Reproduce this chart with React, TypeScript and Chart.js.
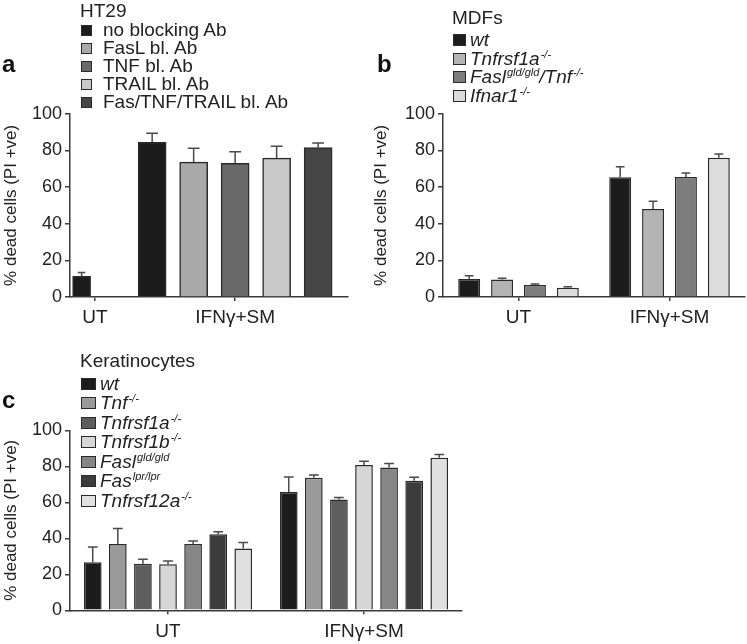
import React, { useEffect, useRef } from 'react';
import { Chart, registerables } from 'chart.js';

Chart.register(...registerables);

// ---------- data ----------
const groups = ['UT', 'IFNγ+SM'];

// Panel a (HT29)
const aSeries = ['no blocking Ab', 'FasL bl. Ab', 'TNF bl. Ab', 'TRAIL bl. Ab', 'Fas/TNF/TRAIL bl. Ab'];
const aUT = [11.3];
const aUTErr = [2.0];
const aIFN = [84.4, 73.6, 72.9, 75.8, 81.5];
const aIFNErr = [4.9, 7.5, 6.4, 6.4, 2.5];

// Panel b (MDFs) — segments: even index normal, odd index superscript
const bSeries = [['wt'], ['Tnfrsf1a', '-/-'], ['Fasl', 'gld/gld', '/Tnf', '-/-'], ['Ifnar1', '-/-']];
const bWt = [9.8, 65.3];
const bTnfrsf1a = [9.5, 48.0];
const bFaslTnf = [6.5, 65.5];
const bIfnar1 = [5.1, 76.0];
const bWtErr = [1.8, 5.7];
const bTnfrsf1aErr = [0.7, 4.2];
const bFaslTnfErr = [0.6, 2.2];
const bIfnar1Err = [0.5, 2.0];

// Panel c (Keratinocytes)
const cSeries = [['wt'], ['Tnf', '-/-'], ['Tnfrsf1a', '-/-'], ['Tnfrsf1b', '-/-'], ['Fasl', 'gld/gld'], ['Fas', 'lpr/lpr'], ['Tnfrsf12a', '-/-']];
const cWt = [26.7, 65.7];
const cTnf = [36.8, 73.7];
const cTnfrsf1a = [25.8, 61.5];
const cTnfrsf1b = [25.6, 80.7];
const cFasl = [36.8, 79.4];
const cFas = [42.2, 72.0];
const cTnfrsf12a = [34.4, 84.8];
const cWtErr = [8.5, 8.3];
const cTnfErr = [8.7, 1.5];
const cTnfrsf1aErr = [2.5, 1.1];
const cTnfrsf1bErr = [1.8, 2.1];
const cFaslErr = [1.7, 2.1];
const cFasErr = [1.5, 1.9];
const cTnfrsf12aErr = [3.2, 1.8];

const yTicksMax = 100;
const yTickStep = 20;
const yTitle = '% dead cells (PI +ve)';

// ---------- styles ----------
const aColors = ['#1c1c1c', '#a9a9a9', '#6a6a6a', '#c9c9c9', '#454545'];
const bColors = ['#1c1c1c', '#b4b4b4', '#7c7c7c', '#dcdcdc'];
const cColors = ['#1c1c1c', '#9a9a9a', '#5e5e5e', '#d6d6d6', '#868686', '#3c3c3c', '#e0e0e0'];
const axisColor = '#3a3a3a';
const textColor = '#222';
const FONT = '"Liberation Sans", Arial, Helvetica, sans-serif';
const yTickFont = 18;
const xTickFont = 19;
const titleFont = 17;
const legendFont = 19;

// panel a x layout (linear axis units)
const aAxisMax = 6.7;
const aUTPos = 0.28;
const aIFNStart = 1.98;
const aTickPos = [0.6, 3.98];

Chart.defaults.font.family = FONT;
Chart.defaults.font.size = 17;
Chart.defaults.color = textColor;

const errorBarPlugin = {
  id: 'errorBars',
  afterDatasetsDraw(chart: any, _args: any, opts: any) {
    const ctx = chart.ctx;
    const yScale = chart.scales.y;
    const capRatio = (opts && opts.capRatio) || 0.4;
    chart.data.datasets.forEach((ds: any, i: number) => {
      const meta = chart.getDatasetMeta(i);
      if (!ds.errors) return;
      meta.data.forEach((el: any, j: number) => {
        const raw = ds.data[j];
        const v = typeof raw === 'number' ? raw : raw && raw.y;
        const err = ds.errors[j];
        if (v == null || err == null) return;
        const yTop = yScale.getPixelForValue(v + err);
        const half = (el.width * capRatio) / 2;
        ctx.save();
        ctx.strokeStyle = '#4a4a4a';
        ctx.lineWidth = 1.5;
        ctx.beginPath();
        ctx.moveTo(el.x, el.y);
        ctx.lineTo(el.x, yTop);
        ctx.moveTo(el.x - half, yTop);
        ctx.lineTo(el.x + half, yTop);
        ctx.stroke();
        ctx.restore();
      });
    });
  },
};

function yAxis(width: number, titlePad: number) {
  return {
    min: 0,
    max: yTicksMax,
    ticks: { stepSize: yTickStep, padding: 3, color: textColor, font: { size: yTickFont } },
    grid: { drawOnChartArea: false, tickLength: 5, color: axisColor, lineWidth: 1.5 },
    border: { display: true, color: axisColor, width: 1.5 },
    title: { display: true, text: yTitle, color: textColor, font: { size: titleFont }, padding: { top: titlePad, bottom: 0 } },
    afterFit: (s: any) => { s.width = width; },
  };
}

function xCategoryAxis(height: number, labelPad: number) {
  return {
    type: 'category',
    ticks: { padding: labelPad, color: textColor, font: { size: xTickFont }, maxRotation: 0, autoSkip: false },
    grid: { offset: false, drawOnChartArea: false, tickLength: 4, color: axisColor, lineWidth: 1.5 },
    border: { display: true, color: axisColor, width: 1.5 },
    afterFit: (s: any) => { s.height = height; },
  };
}

function configA() {
  const datasets: any[] = [
    {
      label: aSeries[0] + ' (UT)',
      data: aUT.map((v) => ({ x: aUTPos, y: v })),
      errors: aUTErr,
      backgroundColor: aColors[0],
      borderColor: '#2a2a2a',
      borderWidth: 1.5,
      barThickness: 18,
    },
    ...aSeries.map((name, i) => ({
      label: name,
      data: [{ x: aIFNStart + i, y: aIFN[i] }],
      errors: [aIFNErr[i]],
      backgroundColor: aColors[i],
      borderColor: '#2a2a2a',
      borderWidth: 1.5,
      barThickness: 28,
    })),
  ];
  return {
    type: 'bar',
    data: { datasets },
    options: {
      animation: false,
      responsive: false,
      grouped: false,
      layout: { padding: { top: 113.7, right: 12, left: 0, bottom: 0 } },
      plugins: { legend: { display: false }, tooltip: { enabled: false }, errorBars: { capRatio: 0.42 } },
      scales: {
        x: {
          type: 'linear',
          min: 0,
          max: aAxisMax,
          offset: false,
          afterBuildTicks: (s: any) => { s.ticks = aTickPos.map((v) => ({ value: v })); },
          ticks: { padding: 5, color: textColor, font: { size: xTickFont }, maxRotation: 0, autoSkip: false,
            callback: (_v: any, i: number) => groups[i] },
          grid: { offset: false, drawOnChartArea: false, tickLength: 4, color: axisColor, lineWidth: 1.5 },
          border: { display: true, color: axisColor, width: 1.5 },
          afterFit: (s: any) => { s.height = 36; },
        },
        y: yAxis(70, 1.5),
      },
    },
    plugins: [errorBarPlugin],
  };
}

function configB() {
  const vals = [bWt, bTnfrsf1a, bFaslTnf, bIfnar1];
  const errs = [bWtErr, bTnfrsf1aErr, bFaslTnfErr, bIfnar1Err];
  return {
    type: 'bar',
    data: {
      labels: groups,
      datasets: bSeries.map((seg, i) => ({
        label: seg.join(''),
        data: vals[i],
        errors: errs[i],
        backgroundColor: bColors[i],
        borderColor: '#2a2a2a',
        borderWidth: 1.5,
        categoryPercentage: 0.871,
        barPercentage: 0.667,
      })),
    },
    options: {
      animation: false,
      responsive: false,
      layout: { padding: { top: 113.7, right: 2, left: 0, bottom: 0 } },
      plugins: { legend: { display: false }, tooltip: { enabled: false }, errorBars: { capRatio: 0.4 } },
      scales: { x: xCategoryAxis(36, 5), y: yAxis(72, 0) },
    },
    plugins: [errorBarPlugin],
  };
}

function configC() {
  const vals = [cWt, cTnf, cTnfrsf1a, cTnfrsf1b, cFasl, cFas, cTnfrsf12a];
  const errs = [cWtErr, cTnfErr, cTnfrsf1aErr, cTnfrsf1bErr, cFaslErr, cFasErr, cTnfrsf12aErr];
  return {
    type: 'bar',
    data: {
      labels: groups,
      datasets: cSeries.map((seg, i) => ({
        label: seg.join(''),
        data: vals[i],
        errors: errs[i],
        backgroundColor: cColors[i],
        borderColor: '#2a2a2a',
        borderWidth: 1.5,
        categoryPercentage: 0.896,
        barPercentage: 0.705,
      })),
    },
    options: {
      animation: false,
      responsive: false,
      layout: { padding: { top: 110.3, right: 8, left: 0, bottom: 0 } },
      plugins: { legend: { display: false }, tooltip: { enabled: false }, errorBars: { capRatio: 0.55 } },
      scales: { x: xCategoryAxis(33.7, 6), y: yAxis(70, 1.5) },
    },
    plugins: [errorBarPlugin],
  };
}

function ChartBox({ left, top, width, height, makeConfig }: any) {
  const ref = useRef<HTMLCanvasElement>(null);
  useEffect(() => {
    const chart = new Chart(ref.current as HTMLCanvasElement, makeConfig());
    return () => chart.destroy();
  }, []);
  return (
    <div style={{ position: 'absolute', left, top, width, height }}>
      <canvas ref={ref} width={width} height={height} style={{ width, height, display: 'block' }} />
    </div>
  );
}

function Label({ segs, italic }: { segs: string[]; italic: boolean }) {
  return (
    <span style={{ fontStyle: italic ? 'italic' : 'normal' }}>
      {segs.map((s, i) =>
        i % 2 === 0 ? (
          <span key={i}>{s}</span>
        ) : (
          <sup key={i} style={{ fontSize: 11, lineHeight: 0, verticalAlign: 7, marginLeft: 1 }}>{s}</sup>
        )
      )}
    </span>
  );
}

function Legend({ left, top, heading, items, colors, italic, lineH, gap, sw, sh, swLeft, textGap }: any) {
  return (
    <div style={{ position: 'absolute', left, top, fontFamily: FONT, fontSize: legendFont, color: textColor, lineHeight: lineH + 'px', whiteSpace: 'nowrap' }}>
      <div>{heading}</div>
      <div style={{ marginTop: gap }}>
        {items.map((segs: string[], i: number) => (
          <div key={i}>
            <span style={{ display: 'inline-block', width: sw, height: sh, boxSizing: 'border-box', background: colors[i], border: '1px solid #2a2a2a', marginLeft: swLeft, marginRight: textGap, verticalAlign: 'baseline' }} />
            <Label segs={segs} italic={italic} />
          </div>
        ))}
      </div>
    </div>
  );
}

function PanelLetter({ left, top, ch }: any) {
  return (
    <div style={{ position: 'absolute', left, top, fontFamily: FONT, fontWeight: 'bold', fontSize: 24, lineHeight: '24px', color: '#111' }}>{ch}</div>
  );
}

export default function App() {
  return (
    <div style={{ position: 'absolute', left: 0, top: 0, width: 747, height: 644, overflow: 'hidden', background: '#fff' }}>
      <ChartBox left={0} top={0} width={360} height={333} makeConfig={configA} />
      <ChartBox left={371} top={0} width={376} height={333} makeConfig={configB} />
      <ChartBox left={0} top={320} width={470} height={324} makeConfig={configC} />

      <PanelLetter left={2} top={51.7} ch="a" />
      <PanelLetter left={377} top={51.7} ch="b" />
      <PanelLetter left={2} top={387.7} ch="c" />

      <Legend left={80} top={2.3} heading="HT29" items={aSeries.map((s) => [s])} colors={aColors} italic={false}
        lineH={18.2} gap={0} sw={11} sh={11} swLeft={1} textGap={11} />
      <Legend left={452} top={9.15} heading="MDFs" items={bSeries} colors={bColors} italic={true}
        lineH={18.5} gap={3.5} sw={13} sh={12} swLeft={1} textGap={4} />
      <Legend left={80} top={350.65} heading="Keratinocytes" items={cSeries} colors={cColors} italic={true}
        lineH={19.5} gap={3.5} sw={15} sh={12} swLeft={1} textGap={4} />
    </div>
  );
}
